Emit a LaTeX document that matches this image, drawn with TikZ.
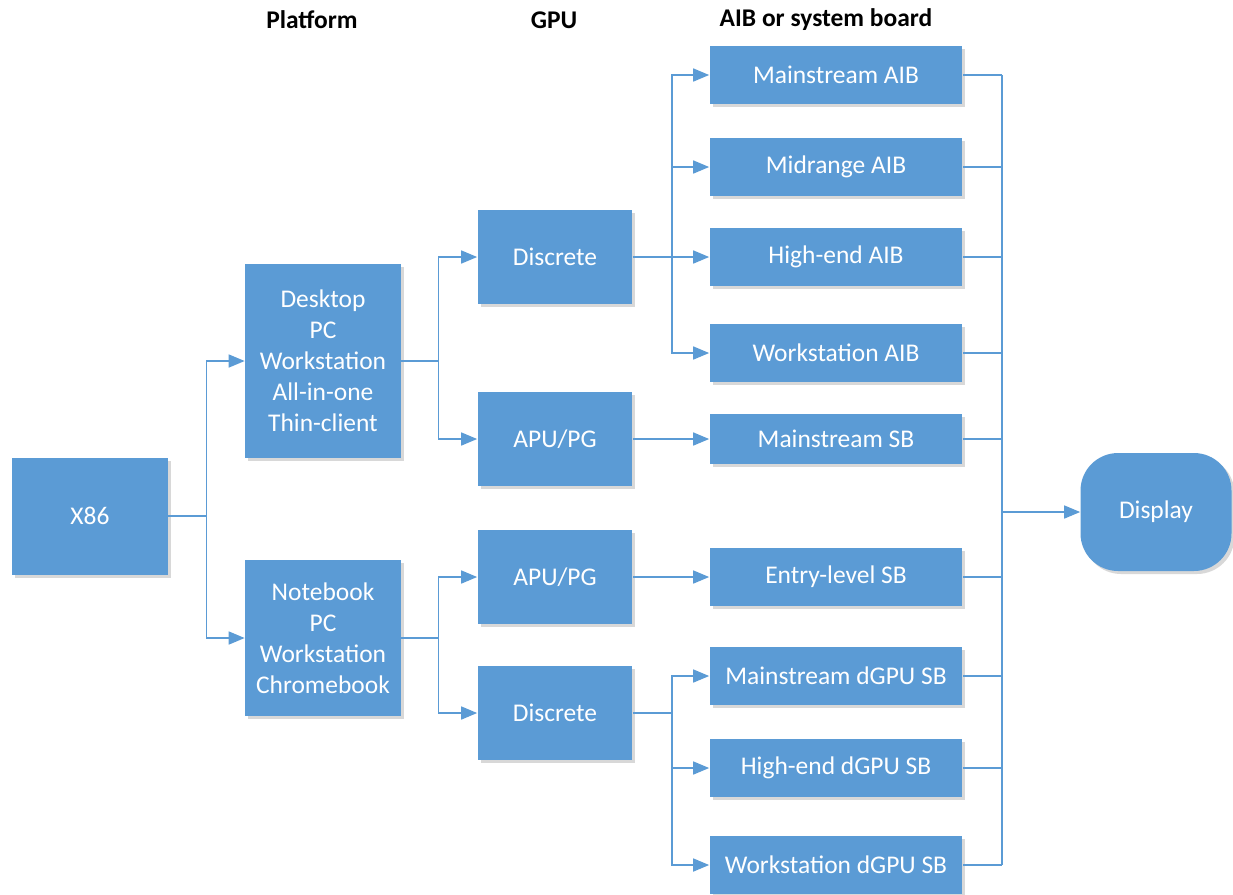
\documentclass[tikz,border=0pt]{standalone}
\usepackage{fontspec}
\setmainfont{Carlito}
\usetikzlibrary{arrows.meta,shadows,positioning}
\definecolor{boxblue}{HTML}{5B9BD5}

\begin{document}
\begin{tikzpicture}[x=0.02cm, y=-0.02cm, >={Triangle[length=.32cm,width=.26cm]}]

\tikzset{
    box/.style={
        rectangle,
        fill=boxblue,
        text=white,
        inner sep=0pt,
        align=center,
        font=\fontsize{14.5}{17.6}\selectfont,
        drop shadow={shadow xshift=.06cm, shadow yshift=-.06cm, fill=black!30}
    },
    gpubox/.style={box, minimum width=3.1cm, minimum height=1.88cm},
    brdbox/.style={box, minimum width=5.06cm, minimum height=1.16cm},
    wire/.style={draw=boxblue, line width=.9pt},
    head/.style={font=\fontsize{14.5}{17.6}\selectfont\bfseries}
}

\useasboundingbox (0,0) rectangle (1233,894);

% column titles
\node[head] (hplat) at (312,20) {Platform};
\node[head] (hgpu) at (554,20) {GPU};
\node[head] (hbrd) at (826,20) {AIB or system board};

\node[box, minimum width=3.12cm, minimum height=2.34cm] (x86) at (90,516) {X86};

\node[box, minimum width=3.12cm, minimum height=3.9cm] (desk) at (323,361)
    {Desktop\\PC\\Workstation\\All-in-one\\Thin-client};
\node[box, minimum width=3.12cm, minimum height=3.12cm] (note) at (323,638)
    {Notebook\\PC\\Workstation\\Chromebook};

\node[gpubox] (dis1) at (555,257) {Discrete};
\node[gpubox] (apu1) at (555,439) {APU/PG};
\node[gpubox] (apu2) at (555,577) {APU/PG};
\node[gpubox] (dis2) at (555,713) {Discrete};

\node[brdbox] (maib) at (836,75) {Mainstream AIB};
\node[brdbox] (mid) at (836,167) {Midrange AIB};
\node[brdbox] (high) at (836,257) {High-end AIB};
\node[brdbox] (wsaib) at (836,353) {Workstation AIB};
\node[brdbox, minimum height=1cm] (msb) at (836,439) {Mainstream SB};
\node[brdbox] (esb) at (836,577) {Entry-level SB};
\node[brdbox] (mdsb) at (836,676) {Mainstream dGPU SB};
\node[brdbox] (hdsb) at (836,768) {High-end dGPU SB};
\node[brdbox] (wdsb) at (836,865) {Workstation dGPU SB};

\node[box, rounded corners=.75cm, minimum width=3.02cm, minimum height=2.36cm] (disp) at (1156,512) {Display};

% platform split
\draw[wire,->] (x86.east) -- ++(38,0) |- (desk.west);
\draw[wire,->] (x86.east) -- ++(38,0) |- (note.west);

% gpu split
\draw[wire,->] (desk.east) -- ++(37,0) |- (dis1.west);
\draw[wire,->] (desk.east) -- ++(37,0) |- (apu1.west);
\draw[wire,->] (note.east) -- ++(37,0) |- (apu2.west);
\draw[wire,->] (note.east) -- ++(37,0) |- (dis2.west);

% boards
\foreach \n in {maib,mid,high,wsaib}
    \draw[wire,->] (dis1.east) -- ++(39,0) |- (\n.west);
\draw[wire,->] (apu1.east) -- (msb.west);
\draw[wire,->] (apu2.east) -- (esb.west);
\foreach \n in {mdsb,hdsb,wdsb}
    \draw[wire,->] (dis2.east) -- ++(39,0) |- (\n.west);

% everything goes to the display
\coordinate (bus) at (1002,512);
\foreach \n in {maib,mid,high,wsaib,msb,esb,mdsb,hdsb,wdsb}
    \draw[wire] (\n.east) -- (\n.east -| bus);
\draw[wire] (maib.east -| bus) -- (wdsb.east -| bus);
\draw[wire,->] (bus) -- (disp.west);
    %
\end{tikzpicture}
\end{document}
